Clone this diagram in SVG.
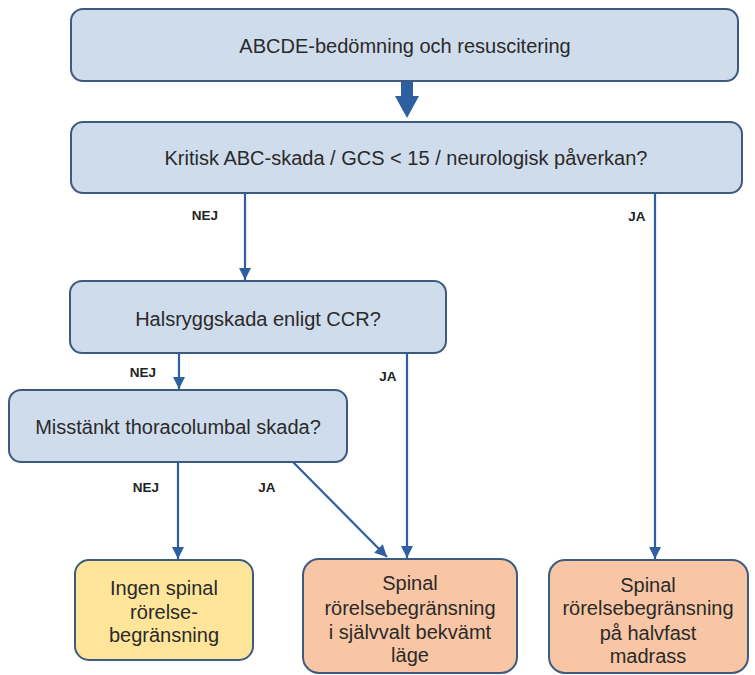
<svg xmlns="http://www.w3.org/2000/svg" width="755" height="675" viewBox="0 0 755 675">
<style>
.box{stroke:#3d5a80;stroke-width:2}
.q{fill:#cfdcec}
.y{fill:#fee59a}
.o{fill:#f8c6a4}
.t{font-family:"Liberation Sans",Arial,sans-serif;font-size:20px;fill:#2a2a2a;text-anchor:middle}
.l{font-family:"Liberation Sans",Arial,sans-serif;font-size:13.5px;font-weight:bold;fill:#222;text-anchor:middle}
.c{stroke:#2e5fa0;stroke-width:2.2;fill:none}
</style>
<defs>
<marker id="ah" viewBox="0 0 10 10" refX="10" refY="5" markerWidth="5.5" markerHeight="5.5" markerUnits="strokeWidth" orient="auto">
<path d="M0,0 L10,5 L0,10 z" fill="#2e5fa0"/>
</marker>
</defs>
<rect width="755" height="675" fill="#ffffff"/>
<g id="n1"><rect class="box q" x="71" y="9" width="667" height="72" rx="12"/><text class="t" x="405" y="53">ABCDE-bedömning och resuscitering</text></g>
<g id="n2"><rect class="box q" x="71" y="122" width="671" height="71" rx="12"/><text class="t" x="406" y="165">Kritisk ABC-skada / GCS &lt; 15 / neurologisk påverkan?</text></g>
<g id="n3"><rect class="box q" x="70" y="281" width="376" height="72" rx="12"/><text class="t" x="258" y="326">Halsryggskada enligt CCR?</text></g>
<g id="n4"><rect class="box q" x="9" y="390" width="338" height="72" rx="12"/><text class="t" x="178" y="434">Misstänkt thoracolumbal skada?</text></g>
<g id="n5"><rect class="box y" x="75" y="560" width="178" height="100" rx="14"/><text class="t"><tspan x="164" y="595">Ingen spinal</tspan><tspan x="164" y="619">rörelse-</tspan><tspan x="164" y="642">begränsning</tspan></text></g>
<g id="n6"><rect class="box o" x="303" y="559" width="214" height="114" rx="16"/><text class="t"><tspan x="410" y="590">Spinal</tspan><tspan x="410" y="615">rörelsebegränsning</tspan><tspan x="410" y="639">i självvalt bekvämt</tspan><tspan x="410" y="662">läge</tspan></text></g>
<g id="n7"><rect class="box o" x="549" y="560" width="199" height="113" rx="16"/><text class="t"><tspan x="648" y="592">Spinal</tspan><tspan x="648" y="615">rörelsebegränsning</tspan><tspan x="648" y="640">på halvfast</tspan><tspan x="648" y="663">madrass</tspan></text></g>
<g id="connectors">
<path d="M401,82 H413 V96 H419 L407,118 L395,96 H401 Z" fill="#2e5fa0"/>
<line class="c" x1="245" y1="193" x2="245" y2="280" marker-end="url(#ah)"/>
<line class="c" x1="655" y1="193" x2="655" y2="559" marker-end="url(#ah)"/>
<line class="c" x1="179" y1="353" x2="179" y2="389" marker-end="url(#ah)"/>
<line class="c" x1="407" y1="353" x2="407" y2="558" marker-end="url(#ah)"/>
<line class="c" x1="178" y1="462" x2="178" y2="559" marker-end="url(#ah)"/>
<line class="c" x1="293" y1="462" x2="387" y2="557" marker-end="url(#ah)"/>
<text class="l" x="205" y="220">NEJ</text>
<text class="l" x="637" y="221">JA</text>
<text class="l" x="143" y="377">NEJ</text>
<text class="l" x="388" y="381">JA</text>
<text class="l" x="146" y="492">NEJ</text>
<text class="l" x="267" y="492">JA</text>
</g>
</svg>
